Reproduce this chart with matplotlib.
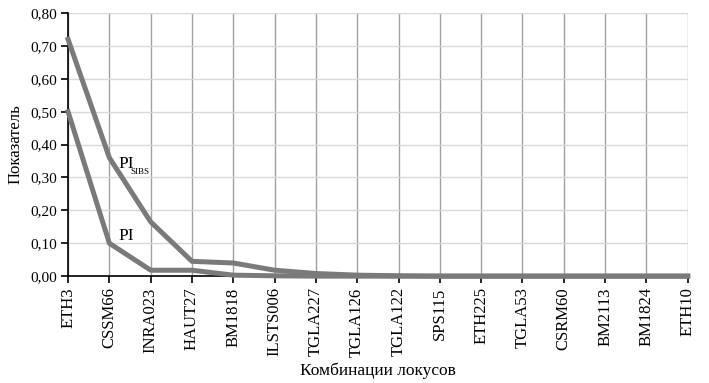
import matplotlib
matplotlib.use("Agg")
from matplotlib import pyplot as plt
import numpy as np

plt.rcParams["font.family"] = ["Liberation Serif", "DejaVu Serif"]

loci = ["ETH3", "CSSM66", "INRA023", "HAUT27", "BM1818", "ILSTS006", "TGLA227",
        "TGLA126", "TGLA122", "SPS115", "ETH225", "TGLA53", "CSRM60", "BM2113",
        "BM1824", "ETH10"]
pi = [0.50, 0.10, 0.018, 0.018, 0.003, 0.001, 0.0, 0.0, 0.0, 0.0, 0.0, 0.0,
      0.0, 0.0, 0.0, 0.0]
pi_sibs = [0.72, 0.36, 0.165, 0.045, 0.040, 0.018, 0.008, 0.003, 0.001, 0.0,
           0.0, 0.0, 0.0, 0.0, 0.0, 0.0]

fig = plt.figure(figsize=(7.09, 3.83), dpi=100)
ax = fig.add_axes([0.096, 0.279, 0.874, 0.687])

x = np.arange(len(loci))
ax.plot(x, pi_sibs, color="#7a7a7a", linewidth=3.6, zorder=5, clip_on=False)
ax.plot(x, pi, color="#7a7a7a", linewidth=3.6, zorder=5, clip_on=False)

ax.set_xlim(0, len(loci) - 1)
ax.set_ylim(0, 0.8)
yt = np.arange(0, 0.81, 0.1)
ax.set_yticks(yt)
ax.set_yticklabels([f"{v:.2f}".replace(".", ",") for v in yt], fontsize=11)
ax.set_xticks(x)
ax.set_xticklabels(loci, rotation=90, fontsize=12)

ax.grid(axis="x", color="#a0a0a0", linewidth=1)
ax.grid(axis="y", color="#d8d8d8", linewidth=1)
ax.set_axisbelow(True)
for s in ["top", "right"]:
    ax.spines[s].set_visible(False)
ax.spines["left"].set_linewidth(1.2)
ax.spines["bottom"].set_linewidth(1.2)
ax.tick_params(length=5, width=1.2, pad=3)

ax.text(1.21, 0.33, "PI", fontsize=12.5, va="baseline")
ax.text(1.52, 0.328, "SIBS", fontsize=6.5, va="top")
ax.text(1.21, 0.11, "PI", fontsize=12.5, va="baseline")

ax.set_ylabel("Показатель", fontsize=12, labelpad=5)
ax.set_xlabel("Комбинации локусов", fontsize=12.5, labelpad=4)

fig.savefig("out.png", dpi=100)
